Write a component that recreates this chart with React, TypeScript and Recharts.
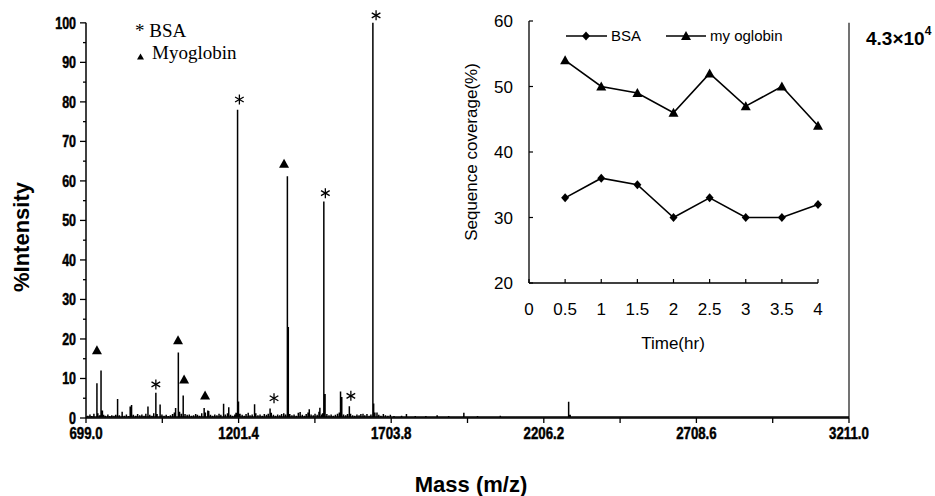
import React from 'react';
import {
  ComposedChart,
  LineChart,
  Line,
  Scatter,
  XAxis,
  YAxis,
  ReferenceLine,
  Label,
  Legend,
} from 'recharts';

// ---- spectrum (m/z, %intensity) ----
const peakMz = [
  705, 712, 718, 725, 735, 738, 744, 748.5, 753, 757, 763, 771, 777, 784, 791, 797, 803, 809, 818, 825,
  832, 839, 844.5, 849, 855, 863, 869, 876, 883, 890, 896, 903, 909, 916, 922, 929, 933, 943, 949, 956,
  963, 970, 977, 984, 990, 994, 1003, 1007, 1013, 1019, 1025, 1032, 1039, 1046, 1053, 1060, 1066, 1073,
  1080, 1088, 1092, 1100, 1103, 1109, 1116, 1123, 1130, 1137, 1143, 1152, 1158, 1165, 1169, 1175, 1182,
  1189, 1193, 1198, 1201, 1206, 1213, 1220, 1226, 1233, 1239, 1246, 1254, 1258, 1265, 1272, 1279, 1286,
  1293, 1299, 1305, 1309, 1316, 1323, 1330, 1337, 1343, 1350, 1356, 1362, 1365, 1370, 1377, 1384, 1391,
  1398, 1404, 1411, 1418, 1424, 1430, 1434, 1440, 1447, 1453, 1460, 1466, 1469, 1475, 1478, 1482, 1486,
  1492, 1499, 1506, 1513, 1520, 1527, 1533, 1537, 1541, 1547, 1554, 1560, 1566, 1570, 1577, 1584, 1591,
  1598, 1604, 1611, 1617, 1624, 1631, 1637, 1643.5, 1646, 1650, 1657, 1663, 1670, 1678, 1685, 1693,
  1701, 1713, 1725, 1738, 1754, 1768, 1783, 1801, 1818, 1836, 1855, 1873, 1893, 1915, 1943, 1965, 1988,
  2013, 2038, 2063, 2088, 2113, 2143, 2173, 2203, 2233, 2258, 2288, 2293, 2323, 2353, 2383, 2413, 2443,
  2473, 2503, 2523, 2548, 2578, 2613, 2653, 2693, 2733, 2773, 2813, 2853, 2893, 2933, 2983, 3033, 3093,
  3153, 3195,
];
const peakIntensity = [
  0.6, 0.9, 0.5, 1.1, 8.8, 1.2, 0.7, 12, 1.9, 0.8, 0.6, 0.9, 0.5, 0.7, 0.6, 0.8, 4.8, 0.7, 1.6, 0.6,
  0.9, 0.5, 2.9, 3.3, 0.8, 0.6, 1.0, 0.7, 0.9, 0.6, 1.1, 2.9, 0.8, 0.6, 1.2, 6.4, 1.0, 3.4, 0.9, 0.6,
  0.8, 0.5, 0.7, 1.0, 1.4, 2.5, 16.6, 1.6, 1.1, 5.7, 1.0, 0.8, 0.9, 0.6, 0.7, 1.0, 0.8, 0.6,
  1.2, 2.5, 1.4, 1.9, 1.8, 0.8, 0.6, 0.9, 0.7, 1.1, 0.8, 3.6, 0.9, 1.2, 2.7, 0.8, 0.6,
  0.9, 1.3, 78, 4.2, 1.1, 0.8, 0.6, 1.0, 1.3, 0.7, 0.9, 3.5, 1.2, 0.7, 0.9, 0.6, 1.0,
  0.8, 1.1, 2.4, 1.3, 0.8, 0.6, 0.9, 0.7, 1.0, 1.2, 0.9, 61.2, 23, 1.0, 0.7, 0.9, 0.6,
  1.3, 1.5, 0.8, 0.6, 1.0, 1.4, 2.2, 0.9, 0.7, 1.1, 0.8, 1.6, 2.6, 0.9, 1.2, 54.8, 6.1,
  1.0, 0.7, 0.9, 0.6, 0.8, 1.1, 1.4, 6.7, 5.3, 0.9, 0.7, 1.0, 3.0, 1.1, 0.7, 0.6, 0.9,
  0.7, 1.0, 1.1, 0.7, 1.0, 0.6, 0.9, 100, 3.7, 1.4, 1.4, 0.8, 0.6, 1.0, 0.7, 0.6,
  0.8, 0.5, 0.4, 0.6, 1.0, 0.4, 0.5, 0.4, 0.5, 0.4, 0.7, 0.4, 0.5, 0.4, 1.3, 0.4, 0.5,
  0.4, 0.4, 0.6, 0.4, 0.3, 0.4, 0.4, 0.3, 0.4, 0.3, 4.1, 0.8, 0.4, 0.3, 0.4, 0.3, 0.4,
  0.3, 0.4, 0.3, 0.4, 0.3, 0.4, 0.3, 0.4, 0.3, 0.4, 0.3, 0.3, 0.4, 0.3, 0.3, 0.3, 0.3,
  0.3, 0.3,
];
const BASE = 0.25;

// peak annotations
const bsaMarkMz = [929, 1204, 1318, 1487, 1571, 1654];
const bsaMarkY = [8.5, 80.6, 5.0, 56.9, 5.6, 101.9];
const myoMarkMz = [735, 1002, 1022, 1091, 1351];
const myoMarkY = [17.3, 19.8, 9.9, 5.8, 64.5];

const massTicks = [699.0, 950.2, 1201.4, 1452.6, 1703.8, 1955.0, 2206.2, 2457.4, 2708.6, 2959.8, 3211.0];
const massLabels = ['699.0', '', '1201.4', '', '1703.8', '', '2206.2', '', '2708.6', '', '3211.0'];
const intensityTicks = [0, 5, 10, 15, 20, 25, 30, 35, 40, 45, 50, 55, 60, 65, 70, 75, 80, 85, 90, 95, 100];

// ---- inset: sequence coverage vs time ----
const hours = [0.5, 1, 1.5, 2, 2.5, 3, 3.5, 4];
const bsaCoverage = [33, 36, 35, 30, 33, 30, 30, 32];
const myoCoverage = [54, 50, 49, 46, 52, 47, 50, 44];
const hourTicks = [0, 0.5, 1, 1.5, 2, 2.5, 3, 3.5, 4];
const coverageTicks = [20, 30, 40, 50, 60];

const spectrum: { mz: number; v: number }[] = [{ mz: 699, v: BASE }];
peakMz.forEach((m, i) => {
  spectrum.push({ mz: m, v: BASE }, { mz: m, v: peakIntensity[i] }, { mz: m, v: BASE });
});
spectrum.push({ mz: 3211, v: BASE });

const bsaMarks = bsaMarkMz.map((mz, i) => ({ mz, v: bsaMarkY[i] }));
const myoMarks = myoMarkMz.map((mz, i) => ({ mz, v: myoMarkY[i] }));
const coverage = hours.map((h, i) => ({ h, bsa: bsaCoverage[i], myo: myoCoverage[i] }));

const SANS = "'Liberation Sans', Arial, sans-serif";
const SERIF = "'Liberation Serif', 'Times New Roman', serif";

// condensed heavy text (Arial Narrow Bold look) by squeezing Liberation Sans Bold
const NarrowText = ({ x, y, size, anchor, children }: any) => (
  <text
    transform={`translate(${x},${y}) scale(0.78,1)`}
    textAnchor={anchor}
    fontFamily={SANS}
    fontWeight="bold"
    fontSize={size}
    fill="#000"
    stroke="#000"
    strokeWidth={0.5}
  >
    {children}
  </text>
);

const Star = (p: any) => {
  const { cx, cy } = p;
  const r = 5;
  const dx = r * 0.866;
  return (
    <g stroke="#000" strokeWidth={1.3}>
      <line x1={cx} y1={cy - r} x2={cx} y2={cy + r} />
      <line x1={cx - dx} y1={cy - r / 2} x2={cx + dx} y2={cy + r / 2} />
      <line x1={cx - dx} y1={cy + r / 2} x2={cx + dx} y2={cy - r / 2} />
    </g>
  );
};

const Tri = (p: any) => {
  const { cx, cy } = p;
  return <polygon points={`${cx},${cy - 4.5} ${cx + 5},${cy + 4.5} ${cx - 5},${cy + 4.5}`} fill="#000" />;
};

const IntensityTick = (props: any) => {
  const { x, y, payload } = props;
  const major = payload.value % 10 === 0;
  return (
    <g>
      <line x1={x - (major ? 6 : 3)} x2={x} y1={y} y2={y} stroke="#000" strokeWidth={1.3} />
      {major && (
        <NarrowText x={x - 10} y={y + 5.8} size={16} anchor="end">
          {payload.value}
        </NarrowText>
      )}
    </g>
  );
};

const MassTick = (props: any) => {
  const { x, y, index } = props;
  return (
    <g>
      <line x1={x} x2={x} y1={y} y2={y + 5} stroke="#000" strokeWidth={1.3} />
      <NarrowText x={x} y={y + 21} size={17} anchor="middle">
        {massLabels[index]}
      </NarrowText>
    </g>
  );
};

const CoverageTick = (props: any) => {
  const { x, y, payload } = props;
  return (
    <g>
      <line x1={x} x2={x + 4} y1={y} y2={y} stroke="#000" strokeWidth={1.2} />
      <text x={x - 16} y={y} dy="0.36em" textAnchor="end" fontFamily={SANS} fontSize={17} fill="#000">
        {payload.value}
      </text>
    </g>
  );
};

const HourTick = (props: any) => {
  const { x, y, payload } = props;
  return (
    <g>
      <line x1={x} x2={x} y1={y} y2={y - 4} stroke="#000" strokeWidth={1.2} />
      <text x={x} y={y + 32} textAnchor="middle" fontFamily={SANS} fontSize={17} fill="#000">
        {payload.value}
      </text>
    </g>
  );
};

const Diamond = (p: any) => (
  <polygon
    key={`d${p.index}`}
    points={`${p.cx},${p.cy - 4.5} ${p.cx + 4},${p.cy} ${p.cx},${p.cy + 4.5} ${p.cx - 4},${p.cy}`}
    fill="#000"
  />
);
const TriDot = (p: any) => (
  <polygon
    key={`t${p.index}`}
    points={`${p.cx},${p.cy - 5} ${p.cx + 5},${p.cy + 4} ${p.cx - 5},${p.cy + 4}`}
    fill="#000"
  />
);

const SpectrumLegend = () => (
  <svg width={130} height={50}>
    <text x={5} y={18.7} fontFamily={SERIF} fontSize={19} fill="#000">* BSA</text>
    <polygon points="10.5,35.5 14,41.5 7,41.5" fill="#000" />
    <text x={22} y={40.5} fontFamily={SERIF} fontSize={19} fill="#000">Myoglobin</text>
  </svg>
);

const CoverageLegend = () => (
  <svg width={240} height={20}>
    <line x1={11} x2={52} y1={10} y2={10} stroke="#000" strokeWidth={1.6} />
    <polygon points="31,5.5 35,10 31,14.5 27,10" fill="#000" />
    <text x={56} y={15} fontFamily={SANS} fontSize={15} fill="#000">BSA</text>
    <line x1={111} x2={151} y1={10} y2={10} stroke="#000" strokeWidth={1.6} />
    <polygon points="131,5 136,14 126,14" fill="#000" />
    <text x={155} y={15} fontFamily={SANS} fontSize={15} fill="#000">my oglobin</text>
  </svg>
);

export default function App() {
  return (
    <div style={{ position: 'absolute', left: 0, top: 0, width: 935, height: 496, background: '#fff' }}>
      <ComposedChart width={935} height={496} margin={{ top: 11, right: 86, bottom: 0, left: 0 }}>
        <XAxis
          dataKey="mz"
          type="number"
          domain={[699, 3211]}
          ticks={massTicks}
          interval={0}
          tickSize={0}
          tickMargin={0}
          tickLine={false}
          tick={MassTick}
          height={78}
          axisLine={{ stroke: '#000', strokeWidth: 1.5 }}
        >
          <Label
            content={() => (
              <text x={471} y={492} textAnchor="middle" fontFamily={SANS} fontWeight="bold" fontSize={22} fill="#000">
                Mass (m/z)
              </text>
            )}
          />
        </XAxis>
        <YAxis
          type="number"
          domain={[0, 103]}
          ticks={intensityTicks}
          interval={0}
          width={86}
          tickSize={0}
          tickMargin={0}
          tickLine={false}
          axisLine={false}
          tick={IntensityTick}
        >
          <Label
            content={() => (
              <text
                transform="translate(29,237) rotate(-90)"
                textAnchor="middle"
                fontFamily={SANS}
                fontWeight="bold"
                fontSize={22}
                fill="#000"
              >
                %Intensity
              </text>
            )}
          />
        </YAxis>
        <ReferenceLine segment={[{ x: 699, y: 0 }, { x: 699, y: 100 }]} stroke="#000" strokeWidth={1.5} />
        <ReferenceLine segment={[{ x: 3211, y: 0 }, { x: 3211, y: 100 }]} stroke="#444" strokeWidth={1.5} />
        <Line
          data={spectrum}
          dataKey="v"
          type="linear"
          stroke="#000"
          strokeWidth={1.5}
          dot={false}
          activeDot={false}
          isAnimationActive={false}
        />
        <Scatter data={bsaMarks} dataKey="v" shape={Star} isAnimationActive={false} />
        <Scatter data={myoMarks} dataKey="v" shape={Tri} isAnimationActive={false} />
        <Legend
          layout="horizontal"
          verticalAlign="middle"
          align="center"
          content={SpectrumLegend}
          wrapperStyle={{ left: 130, top: 18, width: 130, height: 50 }}
        />
      </ComposedChart>

      <div
        style={{
          position: 'absolute',
          left: 866,
          top: 28,
          fontFamily: SANS,
          fontWeight: 'bold',
          fontSize: 19,
          color: '#000',
          whiteSpace: 'nowrap',
        }}
      >
        4.3×10<sup style={{ fontSize: 12, verticalAlign: 'top', position: 'relative', top: -4 }}>4</sup>
      </div>

      <div style={{ position: 'absolute', left: 455, top: 0 }}>
        <LineChart width={400} height={360} data={coverage} margin={{ top: 21, right: 37, bottom: 0, left: 0 }}>
          <XAxis
            dataKey="h"
            type="number"
            domain={[0, 4]}
            ticks={hourTicks}
            interval={0}
            tickSize={0}
            tickMargin={0}
            tickLine={false}
            tick={HourTick}
            height={77}
            axisLine={{ stroke: '#000', strokeWidth: 1.3 }}
          >
            <Label
              content={() => (
                <text x={218} y={349} textAnchor="middle" fontFamily={SANS} fontSize={17} fill="#000">
                  Time(hr)
                </text>
              )}
            />
          </XAxis>
          <YAxis
            type="number"
            domain={[20, 60]}
            ticks={coverageTicks}
            interval={0}
            width={74}
            tickSize={0}
            tickMargin={0}
            tickLine={false}
            tick={CoverageTick}
            axisLine={{ stroke: '#000', strokeWidth: 1.3 }}
          >
            <Label
              content={() => (
                <text
                  transform="translate(22,152) rotate(-90)"
                  textAnchor="middle"
                  fontFamily={SANS}
                  fontSize={17}
                  fill="#000"
                >
                  Sequence coverage(%)
                </text>
              )}
            />
          </YAxis>
          <Line
            dataKey="bsa"
            type="linear"
            stroke="#000"
            strokeWidth={1.6}
            dot={Diamond}
            activeDot={false}
            isAnimationActive={false}
          />
          <Line
            dataKey="myo"
            type="linear"
            stroke="#000"
            strokeWidth={1.6}
            dot={TriDot}
            activeDot={false}
            isAnimationActive={false}
          />
          <Legend
            layout="horizontal"
            verticalAlign="middle"
            align="center"
            content={CoverageLegend}
            wrapperStyle={{ left: 100, top: 26, width: 240, height: 20 }}
          />
        </LineChart>
      </div>
    </div>
  );
}
